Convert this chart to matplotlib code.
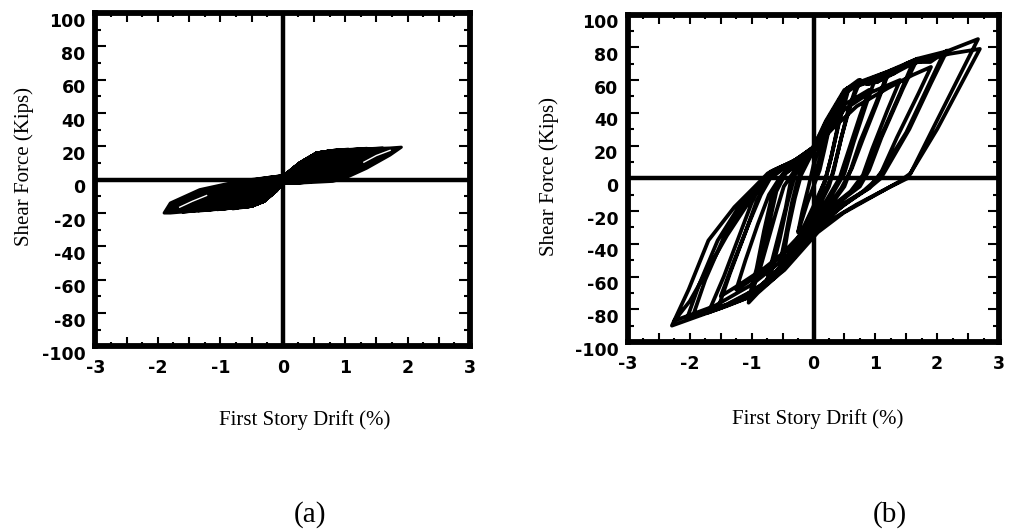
import matplotlib
matplotlib.use("Agg")
import matplotlib.pyplot as plt
from matplotlib.ticker import MultipleLocator, FuncFormatter
from matplotlib.transforms import ScaledTranslation

# --- (a) hysteresis path: drift (%) and shear force (kips), one cycle per line ---
A_DRIFT = [
    0, 0.06, 0.2, 0.3, 0.2, 0.1, 0, -0.1, -0.2, -0.3, -0.2, -0.1, 0,
    0.06, 0.27, 0.4, 0.55, 0.4, 0.25, 0.1, 0, -0.1, -0.3, -0.45, -0.55, -0.45, -0.3, -0.15, 0,
    0.06, 0.27, 0.54, 0.8, 0.6, 0.4, 0.25, 0, -0.1, -0.3, -0.5, -0.8, -0.6, -0.4, -0.2, 0,
    0.06, 0.27, 0.54, 0.8, 1.05, 0.85, 0.6, 0.4, 0.2, 0, -0.1, -0.3, -0.5, -0.79, -1.05, -0.85, -0.6, -0.35, -0.15, 0,
    0.06, 0.27, 0.54, 0.8, 1.1, 1.35, 1.1, 0.85, 0.6, 0.35, 0, -0.1, -0.3, -0.5, -0.79, -1.1, -1.35, -1.1, -0.85, -0.55, -0.25, 0,
    0.06, 0.27, 0.54, 0.8, 1.34, 1.6, 1.4, 1.15, 0.9, 0.6, 0.27, 0, -0.1, -0.3, -0.5, -0.79, -1.33, -1.6, -1.4, -1.1, -0.8, -0.5, -0.2, 0,
    0.06, 0.27, 0.54, 0.8, 1.34, 1.72, 1.9, 1.72, 1.34, 1.0, 0.8, 0.54, 0.27, 0, -0.1, -0.3, -0.5, -0.79, -1.33, -1.8, -1.9, -1.8, -1.33, -0.84, -0.52, -0.2, 0,
]
A_FORCE = [
    0, 3.6, 8, 9.5, 5, 0, -2, -6.6, -9.5, -11, -6, -1, 1.5,
    3.6, 10, 13, 15, 9, 2, -1.5, -2, -6.6, -13, -14.5, -15.5, -9, -3, 1, 2,
    3.6, 10, 16, 17.5, 11, 4, -1, -2, -6.6, -13, -16, -17.5, -10, -3.5, 0.5, 2,
    3.6, 10, 16, 17.5, 18.3, 12, 5, 0, -2, -2, -6.6, -13, -16, -17, -18, -11, -4.5, -0.5, 1.5, 2.2,
    3.6, 10, 16, 17.5, 18.2, 18.8, 12, 5.5, 1, -1.5, -2, -6.6, -13, -16, -17, -18, -18.8, -11, -5.5, -1, 1, 2.3,
    3.6, 10, 16, 17.5, 18.5, 19, 14, 8, 3, -0.5, -2, -2, -6.6, -13, -16, -17, -18.5, -19.5, -13, -6, -2.5, -0.2, 1.5, 2.4,
    3.6, 10, 16, 17.5, 18.5, 19, 19.5, 14.8, 6.8, 1, -1, -1.5, -2, -2, -6.6, -13, -16, -17, -18.5, -20, -20, -14, -6, -2, 0, 1.5, 2.4,
]
# outer outline of the (a) loops, blacked in (the lines are packed solid)
A_OUT_DRIFT = [0, 0.06, 0.27, 0.54, 0.8, 1.34, 1.72, 1.9, 1.72, 1.34, 1.0, 0.8, 0.54, 0.27, 0,
               -0.1, -0.3, -0.5, -0.79, -1.33, -1.8, -1.9, -1.8, -1.33, -0.84, -0.52, -0.2]
A_OUT_FORCE = [1.5, 3.6, 10, 16, 17.5, 18.5, 19, 19.5, 14.8, 6.8, 1, -1, -1.5, -2, -2,
               -6.6, -13, -16, -17, -18.5, -20, -20, -14, -6, -2, 0, 1.5]
# thin gaps left between the biggest loops near the tips
A_GAP_RIGHT_DRIFT = [1.3, 1.5, 1.72]
A_GAP_RIGHT_FORCE = [10.5, 14.5, 17.6]
A_GAP_LEFT_DRIFT = [-1.65, -1.45, -1.22]
A_GAP_LEFT_FORCE = [-16.5, -13, -9.5]

# --- (b) hysteresis path ---
B_DRIFT = [
    0, 0.1, 0.25, 0.18, 0.1, 0.0, -0.1, -0.25, -0.18, -0.08, 0.0,
    0.15, 0.35, 0.55, 0.42, 0.3, 0.2, 0.05, -0.15, -0.35, -0.55, -0.45, -0.35, -0.25, -0.1, 0.0,
    0.15, 0.35, 0.5, 0.4, 0.28, 0.18, 0.0, -0.2, -0.4, -0.5, -0.42, -0.3, -0.2, 0.0,
    0.2, 0.5, 0.76, 0.6, 0.45, 0.33, 0.25, 0.05, -0.2, -0.5, -0.75, -0.6, -0.45, -0.36, -0.2, 0.0,
    0.2, 0.45, 0.7, 0.55, 0.42, 0.3, 0.1, -0.2, -0.5, -0.7, -0.55, -0.42, -0.3, 0.0,
    0.2, 0.5, 0.9, 0.75, 0.55, 0.42, 0.2, -0.1, -0.5, -0.9, -0.75, -0.6, -0.48, -0.3, 0.0,
    0.2, 0.5, 0.8, 1.0, 0.85, 0.65, 0.5, 0.3, 0.0, -0.4, -0.8, -1.0, -0.85, -0.7, -0.6, -0.45, -0.2, 0.0,
    0.2, 0.5, 0.75, 0.87, 1.04, 1.2, 1.0, 0.75, 0.6, 0.5, 0.25, 0.0, -0.3, -0.6, -0.9, -1.05, -0.9, -0.75, -0.64, -0.55, -0.3, 0.0,
    0.2, 0.5, 0.8, 1.0, 1.2, 1.02, 0.8, 0.62, 0.45, 0.2, -0.1, -0.4, -0.75, -1.05, -0.92, -0.8, -0.68, -0.5, -0.25, 0.0,
    0.2, 0.5, 0.9, 1.4, 1.2, 0.95, 0.8, 0.6, 0.2, -0.2, -0.6, -1.0, -1.25, -1.1, -0.9, -0.72, -0.55, -0.3, 0.0,
    0.25, 0.55, 0.9, 1.3, 1.6, 1.4, 1.05, 0.85, 0.65, 0.3, 0.0, -0.35, -0.8, -1.2, -1.55, -1.35, -1.1, -0.92, -0.78, -0.6, -0.3, 0.0,
    0.25, 0.55, 0.73, 0.87, 1.04, 1.3, 1.5, 1.68, 1.45, 1.1, 0.9, 0.75, 0.4, 0.1, -0.2, -0.5, -1.0, -1.4, -1.7, -1.45, -1.2, -1.0, -0.85, -0.7, -0.35, 0.0,
    0.3, 0.7, 1.2, 1.6, 1.9, 1.7, 1.35, 1.1, 0.9, 0.5, 0.1, -0.3, -0.8, -1.2, -1.5, -1.3, -1.05, -0.85, -0.7, -0.4, 0.0,
    0.25, 0.6, 1.0, 1.5, 1.8, 2.1, 1.85, 1.5, 1.04, 0.8, 0.4, 0.0, -0.4, -0.9, -1.4, -1.95, -1.75, -1.45, -1.1, -0.85, -0.6, -0.3, 0.0,
    0.25, 0.55, 0.9, 1.3, 1.57, 1.89, 2.16, 1.9, 1.55, 1.09, 0.9, 0.5, 0.1, -0.3, -0.6, -1.0, -1.5, -2.05, -1.85, -1.55, -1.2, -0.9, -0.64, -0.3, 0.0,
    0.23, 0.55, 0.76, 1.19, 1.68, 2.16, 2.66, 2.42, 1.94, 1.57, 1.37, 0.87, 0.49, 0.07, -0.47, -1.0, -1.7, -2.29, -2.02, -1.7, -1.28, -0.96, -0.74, -0.31, -0.04,
    0.23, 0.55, 1.0, 1.6, 2.2, 2.69, 2.45, 2.0, 1.52, 1.2, 0.7, 0.3, -0.1, -0.5, -1.0, -1.6, -2.25, -2.0, -1.7, -1.4, -1.0, -0.64, -0.3, 0.0,
]
B_FORCE = [
    0, 12, 30, 18, 5, -5, -15, -33, -20, -5, 8,
    25, 42, 52, 35, 15, 0, -15, -30, -45, -53, -35, -15, 0, 12, 18,
    24, 40, 50, 33, 12, -2, -17, -33, -46, -52, -33, -12, 2, 17,
    33, 52, 60, 45, 25, 5, -5, -20, -38, -55, -62, -40, -18, 0, 10, 18,
    32, 50, 57, 40, 20, 2, -15, -37, -54, -60, -38, -15, 2, 17,
    30, 45, 54, 38, 15, 0, -14, -30, -46, -60, -40, -20, -5, 5, 16,
    34, 53, 58, 61, 45, 22, 3, -10, -28, -52, -66, -72, -50, -25, -8, 3, 10, 18,
    34, 53, 59, 57.5, 59, 64, 45, 22, 5, -5, -18, -30, -48, -60, -70, -76, -55, -30, -10, 0, 10, 19,
    35, 54, 58, 60, 63, 45, 24, 6, -6, -19, -32, -50, -64, -74, -55, -32, -12, 2, 10, 18,
    28, 42, 52, 60, 42, 18, 2, -8, -20, -35, -50, -62, -68, -50, -28, -10, 0, 8, 16,
    35, 54, 59, 64, 70, 52, 22, 3, -7, -18, -30, -47, -64, -74, -80, -58, -33, -14, -3, 5, 11, 19,
    36, 55, 60, 57.6, 59, 64, 70, 73, 55, 25, 5, -5, -15, -28, -42, -56, -72, -78, -82, -60, -35, -15, -3, 4, 10, 18,
    30, 44, 55, 63, 68, 52, 25, 4, -6, -15, -27, -40, -55, -65, -72, -52, -28, -10, 0, 8, 16,
    36, 56, 61, 69, 72, 76, 56, 28, 0, -8, -19, -31, -50, -67, -77, -84, -62, -36, -15, -3, 5, 11, 18,
    36, 55, 60, 65, 71, 71, 78, 58, 30, 0, -6, -16, -29, -46, -58, -70, -79, -86, -65, -38, -17, -4, 5, 11, 19,
    35, 55, 59, 65, 73, 77.6, 85, 67, 31, 3, -2.4, -13, -21, -33, -56, -72, -82, -90, -68, -38, -17.6, -5.5, 3, 9, 17,
    35, 55, 62, 71, 76, 79, 62, 30, 0, -6, -16, -25, -35, -50, -65, -78, -87, -75, -55, -35, -12, 3, 11, 18,
]

plt.rcParams["axes.unicode_minus"] = False


def _style(ax, fig) -> None:
    ax.set_xlim(-3, 3)
    ax.set_ylim(-100, 100)
    ax.axhline(0, color="black", lw=3.2, zorder=1)
    ax.axvline(0, color="black", lw=3.2, zorder=1)
    for s in ax.spines.values():
        s.set_linewidth(4.2)
    ax.xaxis.set_major_locator(MultipleLocator(0.5))
    ax.xaxis.set_minor_locator(MultipleLocator(0.25))
    ax.xaxis.set_major_formatter(FuncFormatter(lambda v, p: f"{v:.0f}" if abs(v - round(v)) < 1e-6 else ""))
    ax.yaxis.set_major_locator(MultipleLocator(20))
    ax.yaxis.set_minor_locator(MultipleLocator(10))
    ax.tick_params(which="both", direction="in", top=True, right=True, width=1.5, colors="black")
    ax.tick_params(axis="x", which="major", length=6.5, pad=9)
    ax.tick_params(axis="x", which="minor", length=3)
    ax.tick_params(axis="y", which="major", length=8, pad=7)
    ax.tick_params(axis="y", which="minor", length=4)
    for lab in ax.get_xticklabels() + ax.get_yticklabels():
        lab.set_fontfamily("DejaVu Sans")
        lab.set_fontweight("bold")
        lab.set_fontsize(12.5)
    # the y labels sit a little below their ticks in the original
    offset = ScaledTranslation(0, -0.065, fig.dpi_scale_trans)
    for lab in ax.get_yticklabels():
        lab.set_transform(lab.get_transform() + offset)
    ax.set_xlabel("First Story Drift (%)", family="Liberation Serif", fontsize=15)
    ax.set_ylabel("Shear Force (Kips)", family="Liberation Serif", fontsize=15)


fig = plt.figure(figsize=(10.09, 5.32), dpi=100)
ax_a = fig.add_axes([0.0946, 0.349, 0.3712, 0.6265])
ax_b = fig.add_axes([0.6224, 0.3571, 0.3677, 0.6156])

ax_a.fill(A_OUT_DRIFT, A_OUT_FORCE, color="black", lw=0, zorder=2)
ax_a.plot(A_DRIFT, A_FORCE, color="black", lw=2.2, solid_joinstyle="round", zorder=3)
ax_a.plot(A_GAP_RIGHT_DRIFT, A_GAP_RIGHT_FORCE, color="white", lw=1.0, zorder=4)
ax_a.plot(A_GAP_LEFT_DRIFT, A_GAP_LEFT_FORCE, color="white", lw=1.0, zorder=4)
ax_b.plot(B_DRIFT, B_FORCE, color="black", lw=2.7, solid_joinstyle="round", zorder=3)

_style(ax_a, fig)
_style(ax_b, fig)
ax_a.xaxis.set_label_coords(0.559, -0.19)
ax_a.yaxis.set_label_coords(-0.165, 0.54)
ax_b.xaxis.set_label_coords(0.512, -0.205)
ax_b.yaxis.set_label_coords(-0.185, 0.505)

fig.text(0.307, 0.032, "(a)", family="Liberation Serif", fontsize=21, ha="center", va="center")
fig.text(0.882, 0.032, "(b)", family="Liberation Serif", fontsize=21, ha="center", va="center")

fig.savefig("out.png", dpi=100)
